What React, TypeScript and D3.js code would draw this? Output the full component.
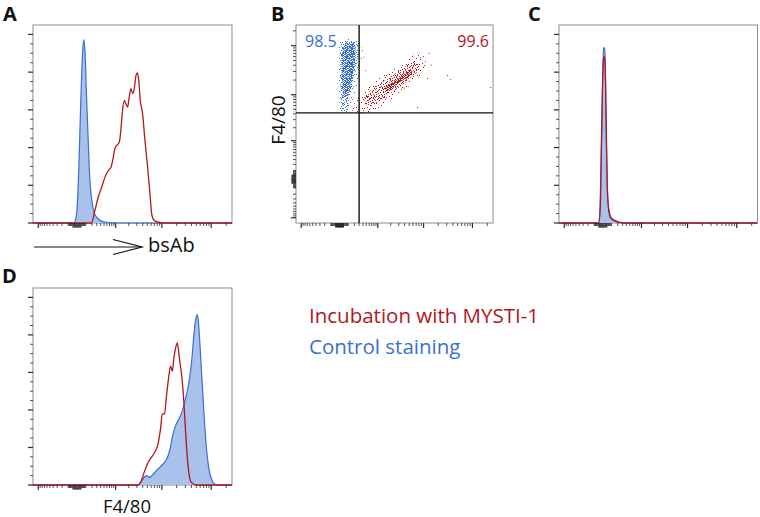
import React from 'react';
import * as d3 from 'd3';

const W = 760;
const H = 517;

// ---------- axis definitions ----------
const BIEX_C = 200;
const BIEX_DOMAIN: [number, number] = [-1332, 262144];
const CH_MAX = 1024;
const labeledTicks = [-1000, 0, 1000, 10000, 100000];
const smallMantissas = [1, 2, 3, 4, 5, 6, 7, 8, 9];
const largeMantissas = [2, 3, 4, 5, 6, 7, 8, 9];
const countTicks = d3.range(0, 101, 5);

// ---------- histogram data: [channel (0-1024), % of max] ----------
const histA_control: [number, number][] = [
  [0, 0], [210, 0], [224, 4.6], [236, 29.5], [246, 65], [255, 90], [261, 97.3], [268, 90],
  [275, 68.6], [284, 43.7], [292, 24], [303, 11.7], [318, 4.6], [344, 1.4], [378, 0.4], [447, 0], [1024, 0],
];
const histA_mysti: [number, number][] = [
  [0, 0], [301, 0], [318, 6.4], [335, 13.5], [353, 18.8], [370, 24.2], [387, 27.7], [401, 29.5],
  [413, 34.8], [421, 39.3], [430, 41], [444, 42.8], [451, 48.1], [459, 57.9], [470, 65], [478, 63.2],
  [487, 61.5], [495, 66.8], [504, 71.2], [513, 68.6], [521, 71.2], [530, 78.3], [537, 79.6], [544, 75.7],
  [552, 65], [564, 57.9], [576, 43.7], [590, 29.5], [602, 15.3], [611, 4.6], [623, 1.4], [645, 0.4],
  [679, 0], [1024, 0],
];
const histC_control: [number, number][] = [
  [0, 0], [203, 0], [210, 4.6], [218, 38.4], [225, 73.9], [230, 92.5], [236, 93], [239, 82.7],
  [244, 47], [249, 18.6], [256, 8.2], [270, 2.8], [296, 1.1], [322, 0.2], [347, 0], [1024, 0],
];
const histC_mysti: [number, number][] = [
  [0, 0], [205, 0], [213, 8.2], [220, 47], [227, 82.7], [232, 88.4], [237, 86.3], [243, 56],
  [248, 24], [255, 8.2], [265, 2.8], [287, 1.1], [313, 0.2], [347, 0], [1024, 0],
];
const histD_control: [number, number][] = [
  [0, 0], [540, 0], [566, 3.2], [583, 5], [600, 4.1], [617, 5.5], [635, 7.6], [652, 9.4], [669, 11.2],
  [683, 12.9], [695, 15.6], [707, 20], [720, 27], [737, 32.4], [755, 36], [768, 39.5], [782, 44.8],
  [794, 50], [806, 57.2], [818, 67.8], [828, 80.2], [837, 88.1], [844, 90.8], [851, 87.3], [859, 74.9],
  [870, 55.4], [880, 37.7], [892, 20], [904, 9.4], [918, 3.2], [935, 0.5], [952, 0], [1024, 0],
];
const histD_mysti: [number, number][] = [
  [0, 0], [540, 0], [557, 2.3], [575, 7.6], [592, 12], [609, 14.7], [626, 17.3], [643, 21.8],
  [657, 30.6], [665, 37.7], [677, 38], [686, 46.5], [698, 57.2], [708, 63.4], [717, 60.7], [725, 67.8],
  [734, 73.1], [743, 75.8], [751, 69.6], [760, 62.5], [768, 55.4], [777, 43], [785, 28.8], [794, 14.7],
  [803, 5.8], [815, 1.4], [840, 0], [1024, 0],
];

// ---------- dot plot (panel B) density regions: [bsAb channel, F4/80 channel] ----------
const blueSparse: [number, number][] = [
  [229, 941], [312, 951], [338, 915], [343, 832], [322, 729], [291, 626], [276, 574], [229, 574], [218, 688], [218, 869],
];
const blueMedium: [number, number][] = [
  [250, 936], [291, 941], [317, 925], [322, 869], [312, 791], [291, 713], [276, 636], [265, 584],
  [239, 579], [234, 636], [229, 739], [229, 843], [234, 905],
];
const blueCore: [number, number][] = [
  [255, 925], [302, 925], [307, 843], [291, 739], [270, 662], [250, 651], [239, 739], [239, 869],
];
const redSparse: [number, number][] = [
  [295, 575], [315, 640], [355, 692], [418, 740], [490, 782], [560, 833], [612, 872], [655, 870],
  [675, 835], [655, 775], [600, 720], [540, 668], [470, 620], [400, 580], [345, 560],
];
const redMedium: [number, number][] = [
  [355, 645], [420, 710], [493, 757], [560, 803], [612, 835], [640, 800], [590, 745], [528, 695], [455, 648], [380, 605],
];
const redCore: [number, number][] = [
  [463, 698], [530, 744], [582, 786], [603, 791], [598, 765], [541, 729], [478, 682],
];
const redOutliers: [number, number][] = [
  [645, 858], [681, 750], [785, 765], [801, 744], [629, 600], [1009, 703], [700, 820], [560, 700], [690, 880],
];
const blueOutliers: [number, number][] = [[343, 894], [359, 791], [350, 860]];
const gateBsAb = 300;
const gateF480 = 4200;
const quadrantValues = ['98.5', '99.6'];

const legendLabels = ['Incubation with MYSTI-1', 'Control staining'];

// ---------- styles ----------
const RED = '#b3161c';
const BLUE = '#3b6fd2';
const BLUE_FILL = '#a8c2ec';
const FRAME = '#8c8c8c';
const TICK = '#2a2a2a';
const FONT = "'Open Sans', 'Noto Sans', sans-serif";

const biex = d3.scaleSymlog().constant(BIEX_C).domain(BIEX_DOMAIN).range([0, CH_MAX]);

const minorTicks: number[] = [];
[10, 100].forEach((d) => smallMantissas.forEach((m) => { minorTicks.push(m * d); minorTicks.push(-m * d); }));
[1000, 10000].forEach((d) => largeMantissas.forEach((m) => minorTicks.push(m * d)));
minorTicks.push(200000);

type Box = { x0: number; x1: number; y0: number; y1: number };
const boxA: Box = { x0: 33, x1: 232, y0: 25, y1: 223 };
const boxB: Box = { x0: 296, x1: 493, y0: 25, y1: 223 };
const boxC: Box = { x0: 559, x1: 757.5, y0: 25, y1: 223 };
const boxD: Box = { x0: 33, x1: 232, y0: 288, y1: 485 };

const tickLen = (v: number) => (Math.abs(v) <= 40 ? 4.5 : 3);
const tickW = (v: number) => (Math.abs(v) <= 40 ? 1.2 : 0.8);

function BiexXTicks({ b }: { b: Box }) {
  const x = d3.scaleLinear().domain([0, CH_MAX]).range([b.x0, b.x1]);
  return (
    <g>
      {minorTicks.map((v, i) => {
        const px = x(biex(v));
        return <line key={'m' + i} x1={px} x2={px} y1={b.y1} y2={b.y1 + tickLen(v)} stroke={TICK} strokeWidth={tickW(v)} />;
      })}
      {labeledTicks.map((v, i) => {
        const px = x(biex(v));
        return <line key={'M' + i} x1={px} x2={px} y1={b.y1} y2={b.y1 + 5} stroke={TICK} strokeWidth={1.2} />;
      })}
    </g>
  );
}

function BiexYTicks({ b }: { b: Box }) {
  const y = d3.scaleLinear().domain([0, CH_MAX]).range([b.y1, b.y0]);
  return (
    <g>
      {minorTicks.map((v, i) => {
        const py = y(biex(v));
        return <line key={'m' + i} x1={b.x0 - tickLen(v)} x2={b.x0} y1={py} y2={py} stroke={TICK} strokeWidth={tickW(v)} />;
      })}
      {labeledTicks.map((v, i) => {
        const py = y(biex(v));
        return <line key={'M' + i} x1={b.x0 - 5} x2={b.x0} y1={py} y2={py} stroke={TICK} strokeWidth={1.2} />;
      })}
    </g>
  );
}

function CountYTicks({ b }: { b: Box }) {
  const y = d3.scaleLinear().domain([0, 105]).range([b.y1, b.y0]);
  return (
    <g>
      {countTicks.map((v) => {
        const major = v % 20 === 0;
        const py = y(v);
        return (
          <line key={v} x1={b.x0 - (major ? 5 : 3)} x2={b.x0} y1={py} y2={py} stroke={TICK} strokeWidth={major ? 1.2 : 0.8} />
        );
      })}
    </g>
  );
}

function Histogram({ b, id, control, mysti }: { b: Box; id: string; control: [number, number][]; mysti: [number, number][] }) {
  const x = d3.scaleLinear().domain([0, CH_MAX]).range([b.x0, b.x1]);
  const y = d3.scaleLinear().domain([0, 105]).range([b.y1, b.y0]);
  const area = d3.area<[number, number]>().x((d) => x(d[0])).y0(y(0)).y1((d) => y(d[1])).curve(d3.curveMonotoneX);
  const line = d3.line<[number, number]>().x((d) => x(d[0])).y((d) => y(d[1])).curve(d3.curveMonotoneX);
  return (
    <g>
      <clipPath id={'clip' + id}>
        <rect x={b.x0} y={b.y0} width={b.x1 - b.x0} height={b.y1 - b.y0 + 1} />
      </clipPath>
      <rect x={b.x0} y={b.y0} width={b.x1 - b.x0} height={b.y1 - b.y0} fill="#fff" stroke={FRAME} strokeWidth={1} />
      <g clipPath={`url(#clip${id})`}>
        <path d={area(control) || ''} fill={BLUE_FILL} />
        <path d={line(control) || ''} fill="none" stroke={BLUE} strokeWidth={1.2} />
        <path d={line(mysti) || ''} fill="none" stroke={RED} strokeWidth={1.3} />
      </g>
      <CountYTicks b={b} />
      <BiexXTicks b={b} />
    </g>
  );
}

function DotPattern({ id, color, size, dots }: { id: string; color: string; size: number; dots: [number, number][] }) {
  return (
    <pattern id={id} width={size} height={size} patternUnits="userSpaceOnUse">
      {dots.map((d, i) => (
        <rect key={i} x={d[0]} y={d[1]} width={1} height={1} fill={color} />
      ))}
    </pattern>
  );
}

// irregular dot tiles used as fill texture for the density regions
const sparseDots: [number, number][] = [[0, 0], [5, 1], [9, 3], [2, 4], [7, 6], [4, 8], [10, 9], [1, 9], [6, 10]];
const mediumDots: [number, number][] = [
  [0, 0], [3, 1], [6, 0], [1, 3], [5, 2], [7, 4], [2, 5], [4, 4], [0, 6], [6, 7], [3, 7], [5, 6], [2, 2], [7, 1],
];
const denseDots: [number, number][] = [
  [0, 0], [2, 0], [3, 0], [5, 0], [1, 1], [4, 1], [0, 2], [2, 2], [3, 2], [5, 2], [1, 3], [4, 3], [3, 3],
  [0, 4], [2, 4], [5, 4], [1, 5], [3, 5], [4, 5],
];

function DotPlot() {
  const b = boxB;
  const x = d3.scaleLinear().domain([0, CH_MAX]).range([b.x0, b.x1]);
  const y = d3.scaleLinear().domain([0, CH_MAX]).range([b.y1, b.y0]);
  const poly = d3.line<[number, number]>().x((d) => x(d[0])).y((d) => y(d[1])).curve(d3.curveCatmullRomClosed.alpha(0.5));
  const gx = x(biex(gateBsAb));
  const gy = y(biex(gateF480));
  return (
    <g>
      <defs>
        <DotPattern id="bS" color={BLUE} size={11} dots={sparseDots} />
        <DotPattern id="bM" color={BLUE} size={8} dots={mediumDots} />
        <DotPattern id="bD" color={BLUE} size={6} dots={denseDots} />
        <DotPattern id="rS" color={RED} size={11} dots={sparseDots} />
        <DotPattern id="rM" color={RED} size={8} dots={mediumDots} />
        <DotPattern id="rD" color={RED} size={6} dots={denseDots} />
        <clipPath id="clipB">
          <rect x={b.x0} y={b.y0} width={b.x1 - b.x0} height={b.y1 - b.y0} />
        </clipPath>
      </defs>
      <rect x={b.x0} y={b.y0} width={b.x1 - b.x0} height={b.y1 - b.y0} fill="#fff" stroke={FRAME} strokeWidth={1} />
      <g clipPath="url(#clipB)">
        <path d={poly(redSparse) || ''} fill="url(#rS)" />
        <path d={poly(redMedium) || ''} fill="url(#rM)" />
        <path d={poly(redCore) || ''} fill="url(#rD)" />
        {redOutliers.map((d, i) => (
          <rect key={'ro' + i} x={x(d[0])} y={y(d[1])} width={1} height={1} fill={RED} />
        ))}
        <path d={poly(blueSparse) || ''} fill="url(#bS)" />
        <path d={poly(blueMedium) || ''} fill="url(#bM)" />
        <path d={poly(blueCore) || ''} fill="url(#bD)" />
        {blueOutliers.map((d, i) => (
          <rect key={'bo' + i} x={x(d[0])} y={y(d[1])} width={1} height={1} fill={BLUE} />
        ))}
        <line x1={gx} x2={gx} y1={b.y0} y2={b.y1} stroke="#111" strokeWidth={1.4} />
        <line x1={b.x0} x2={b.x1} y1={gy} y2={gy} stroke="#111" strokeWidth={1.4} />
      </g>
      <BiexYTicks b={b} />
      <BiexXTicks b={b} />
      <text x={b.x0 + 9} y={47} fontSize={16} fill={BLUE} fontFamily={FONT}>{quadrantValues[0]}</text>
      <text x={b.x1 - 4} y={47} fontSize={16} fill={RED} fontFamily={FONT} textAnchor="end">{quadrantValues[1]}</text>
      <text transform={`translate(285,120) rotate(-90)`} fontSize={19} fill="#111" fontFamily={FONT} textAnchor="middle">F4/80</text>
    </g>
  );
}

export default function App() {
  return (
    <svg width={W} height={H} viewBox={`0 0 ${W} ${H}`} style={{ position: 'absolute', left: 0, top: 0, display: 'block', background: '#fff' }}>
      <rect width={W} height={H} fill="#fff" />
      <g fontFamily={FONT} fontWeight={700} fontSize={20} fill="#111">
        <text x={3} y={21}>A</text>
        <text x={271} y={21}>B</text>
        <text x={528} y={21}>C</text>
        <text x={2} y={283}>D</text>
      </g>
      <Histogram b={boxA} id="A" control={histA_control} mysti={histA_mysti} />
      <DotPlot />
      <Histogram b={boxC} id="C" control={histC_control} mysti={histC_mysti} />
      <Histogram b={boxD} id="D" control={histD_control} mysti={histD_mysti} />
      <line x1={34} x2={142} y1={247} y2={247} stroke="#111" strokeWidth={1.2} />
      <polyline points="113,239.5 142,247 113,254.5" fill="none" stroke="#111" strokeWidth={1.2} />
      <text x={148} y={252} fontSize={20} fill="#111" fontFamily={FONT}>bsAb</text>
      <text x={127} y={513} fontSize={18.5} fill="#111" fontFamily={FONT} textAnchor="middle">F4/80</text>
      <text x={309} y={323} fontSize={20.5} fill={RED} fontFamily={FONT}>{legendLabels[0]}</text>
      <text x={309} y={354} fontSize={20.5} fill={BLUE} fontFamily={FONT}>{legendLabels[1]}</text>
    </svg>
  );
}
